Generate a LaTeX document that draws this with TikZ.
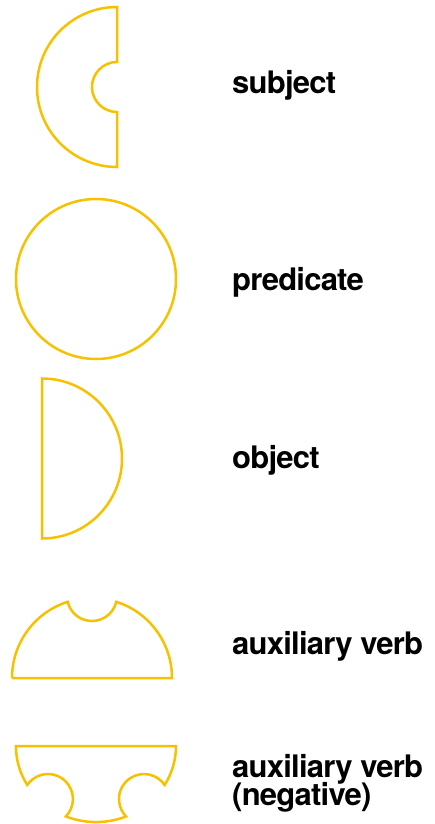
\documentclass[tikz,border=0pt]{standalone}
\usepackage{fontspec}
\setmainfont{TeX Gyre Heros}[LetterSpace=-2.5]
\definecolor{gold}{RGB}{247,193,0}
\begin{document}
\begin{tikzpicture}[x=1pt,y=1pt,
  piece/.style={draw=gold,line width=2.5pt,line join=miter},
  label/.style={anchor=base west,inner sep=0pt,font=\fontsize{31}{31}\selectfont\bfseries}]
\useasboundingbox (0,0) rectangle (434,-824);
% subject
\path[piece] (117,-7) -- (117,-62) arc[start angle=90,end angle=270,radius=25]
  -- (117,-167) arc[start angle=270,end angle=90,radius=80] -- cycle;
% predicate
\path[piece] (96,-279) circle[radius=80];
% object
\path[piece] (42,-378.5) -- (42,-538.5) arc[start angle=-90,end angle=90,radius=80] -- cycle;
% auxiliary verb
\path[piece] (12,-678) -- (172,-678) arc[start angle=0,end angle=72.30,radius=80]
  arc[start angle=-13.38,end angle=-166.62,radius=25]
  arc[start angle=107.70,end angle=180,radius=80] -- cycle;
% auxiliary verb (negative)
\path[piece] (16,-746) -- (176,-746)
  arc[start angle=0,end angle=-30.86,x radius=80,y radius=76]
  arc[start angle=34.2,end angle=224.2,radius=25]
  arc[start angle=-67.89,end angle=-112.11,x radius=80,y radius=76]
  arc[start angle=-44.2,end angle=145.8,radius=25]
  arc[start angle=-149.14,end angle=-180,x radius=80,y radius=76] -- cycle;
% labels
\node[label] (subj) at (232,-94) {subject};
\node[label] (pred) at (232,-290) {predicate};
\node[label] (obj) at (232,-468.5) {object};
\node[label] (aux) at (232,-654.5) {auxiliary verb};
\node[label] (auxneg) at (232,-777) {auxiliary verb};
\node[label] (neg) at (232,-805) {(negative)};
\end{tikzpicture}
\end{document}
